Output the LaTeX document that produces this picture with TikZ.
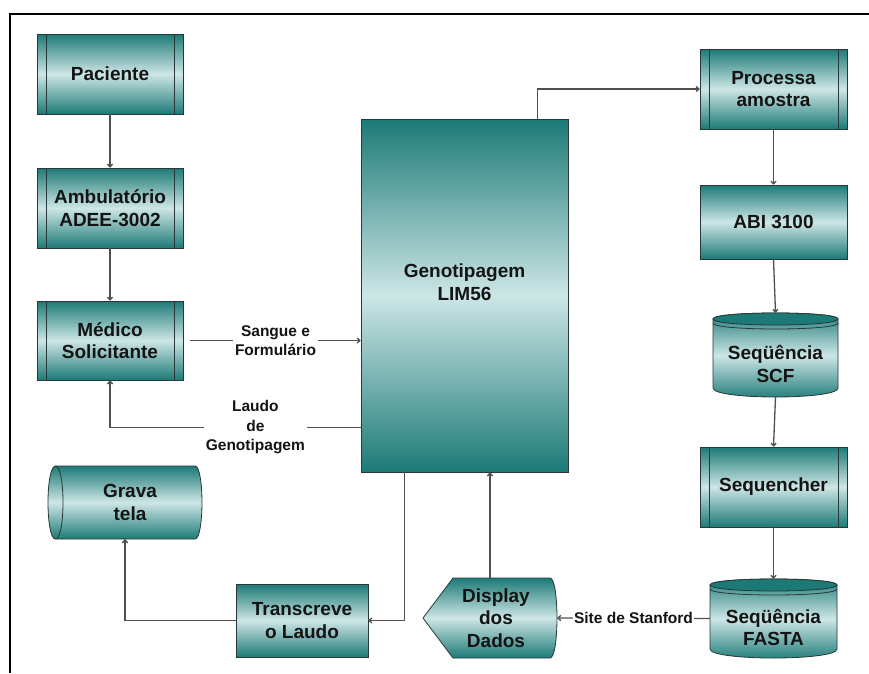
\documentclass[tikz,border=0pt]{standalone}
\usepackage{fontspec}
\setmainfont{Liberation Sans}
\usetikzlibrary{arrows.meta,calc}
\definecolor{tealD}{RGB}{28,122,118}
\definecolor{tealL}{RGB}{205,230,230}
\definecolor{edge}{RGB}{40,55,55}
\definecolor{conn}{RGB}{80,80,80}
\definecolor{txt}{RGB}{20,20,20}
\newcommand\bxfont{\fontsize{19}{22.5}\selectfont\bfseries}
\newcommand\lbfont{\fontsize{15.5}{19.5}\selectfont\bfseries}
\newcommand\mydisk[4]{%
 \shadedraw[draw=edge,line width=0.8pt,top color=tealD,bottom color=tealD,middle color=tealL]
  (#1,#3+6) -- (#1,#4-9) .. controls (#1,#4+3) and (#2,#4+3) .. (#2,#4-9) -- (#2,#3+6)
  .. controls (#2,#3-2) and (#1,#3-2) .. cycle;
 \filldraw[fill=tealD,draw=edge,line width=0.8pt]
  (#1,#3+6) .. controls (#1,#3-2) and (#2,#3-2) .. (#2,#3+6)
  .. controls (#2,#3+14) and (#1,#3+14) .. cycle;
 \draw[edge,line width=0.8pt] (#1,#3+10) .. controls (#1,#3+18) and (#2,#3+18) .. (#2,#3+10);
}
\begin{document}
\begin{tikzpicture}[x=1pt,y=-1pt,
 box/.style={draw=edge,line width=0.8pt,top color=tealD,bottom color=tealD,middle color=tealL,
   align=center,font=\bxfont,text=txt,inner sep=0pt},
 pproc/.style={box,minimum width=146pt,minimum height=80pt,
   path picture={\draw[edge,line width=0.8pt]
     ([xshift=9pt]path picture bounding box.north west) -- ([xshift=9pt]path picture bounding box.south west)
     ([xshift=-9pt]path picture bounding box.north east) -- ([xshift=-9pt]path picture bounding box.south east);}},
 ghost/.style={align=center,font=\bxfont,text=txt,inner sep=0pt},
 conn/.style={draw=conn,line width=1.3pt,-{To[length=4pt,width=6pt]}},
 lbl/.style={font=\lbfont,text=txt,fill=white,align=center,inner sep=2pt}]
\fill[white] (0,0) rectangle (869,673);
\useasboundingbox (0,0) rectangle (869,673);
\draw[black,line width=2.2pt] (10,673) -- (10,14) -- (869,14);

% shapes drawn directly
\mydisk{713}{838}{313}{397}
\mydisk{710}{837}{579}{658}
\shadedraw[draw=edge,line width=0.8pt,top color=tealD,bottom color=tealD,middle color=tealL]
 (55.5,466) -- (195,466) .. controls (204.3,466) and (204.3,539) .. (195,539) -- (55.5,539)
 .. controls (45.5,539) and (45.5,466) .. cycle;
\draw[edge,line width=0.8pt] (55.5,466) .. controls (65.5,466) and (65.5,539) .. (55.5,539);
\shadedraw[draw=edge,line width=0.8pt,top color=tealD,bottom color=tealD,middle color=tealL]
 (453,578) -- (550,578) .. controls (559.3,578) and (559.3,658) .. (550,658) -- (453,658) -- (423,618) -- cycle;

% nodes
\node[pproc] (pac) at (110,74) {Paciente};
\node[pproc] (amb) at (110,208) {Ambulatório\\ADEE-3002};
\node[pproc,minimum height=79pt] (med) at (110,340.5) {Médico\\Solicitante};
\node[box,minimum width=207pt,minimum height=353pt,
  label={[ghost,yshift=13.5pt]center:Genotipagem\\LIM56}] (geno) at (464.5,295.5) {};
\node[pproc,minimum width=147pt] (proc) at (773.5,89) {Processa\\amostra};
\node[box,minimum width=147pt,minimum height=74pt] (abi) at (773.5,222) {ABI 3100};
\node[ghost,minimum width=125pt,minimum height=84pt,
  label={[ghost,yshift=-9pt]center:Seqüência\\SCF}] (scf) at (775.5,355) {};
\node[pproc,minimum width=147pt] (seqr) at (773.5,487) {Sequencher};
\node[ghost,minimum width=127pt,minimum height=79pt,
  label={[ghost,yshift=-9pt]center:Seqüência\\FASTA}] (fasta) at (773.5,618.5) {};
\node[ghost,minimum width=134pt,minimum height=80pt,
  label={[ghost,xshift=6pt]center:Display\\dos\\Dados}] (disp) at (490,618) {};
\node[box,minimum width=132pt,minimum height=73pt] (trans) at (302,620.5) {Transcreve\\o Laudo};
\node[ghost,minimum width=154pt,minimum height=73pt,
  label={[ghost,xshift=5pt]center:Grava\\tela}] (grava) at (125,502.5) {};

% connectors
\draw[conn] (pac.south) -- (amb.north);
\draw[conn] (amb.south) -- (med.north);
\draw[conn] ([xshift=7pt]med.east) -- node[lbl]{Sangue e\\Formulário} (geno.west |- med.east);
\draw[conn] ([yshift=45pt]geno.south west) -| node[lbl,pos=0.21]{Laudo\\de\\Genotipagem} (med.south);
\draw[conn] ([xshift=-31pt]geno.north east) |- (proc.west);
\draw[conn] (proc.south) -- (abi.north);
\draw[conn] (abi.south) -- (scf.north);
\draw[conn] (scf.south) -- (seqr.north);
\draw[conn] (seqr.south) -- (fasta.north);
\draw[conn] (fasta.west) -- node[lbl,inner sep=1pt]{Site de Stanford} (disp.east);
\draw[conn] (disp.north) -- (disp.north |- geno.south);
\draw[conn] ([xshift=44pt]geno.south west) |- (trans.east);
\draw[conn] (trans.west) -| (grava.south);
\end{tikzpicture}
\end{document}
